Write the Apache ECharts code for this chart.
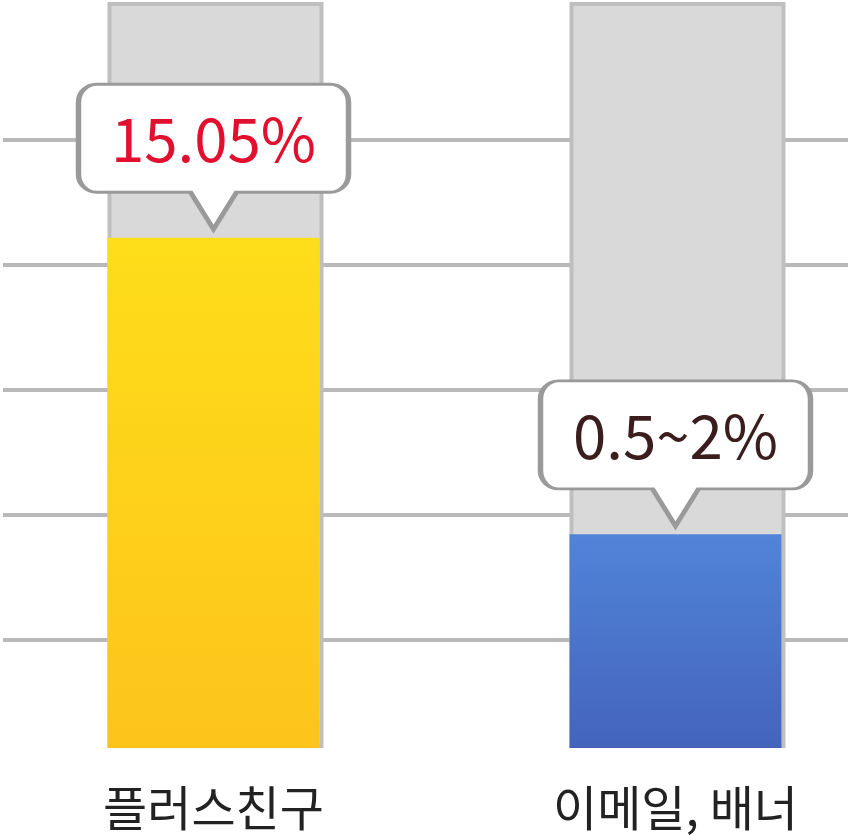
<!DOCTYPE html>
<html><head><meta charset="utf-8">
<script src="https://cdn.jsdelivr.net/npm/echarts@6/dist/echarts.min.js"></script>
<style>html,body{margin:0;padding:0;background:#fff}#c{width:854px;height:836px}</style>
</head><body><div id="c"></div>
<script>
const categories = ['플러스친구', '이메일, 배너'];
const values = [15.05, 6.3];
const labels = ['15.05%', '0.5~2%'];
const labelColors = ['#e1102f', '#3b1d1d'];
const axisMax = 22;
const gridTicks = [0, 1, 2, 3, 4];

const topColors = ['#fedd1a', '#5084d8'];
const bottomColors = ['#fdc41b', '#4464bb'];

const calloutPath = 'path://M18,0 H252 A18,18 0 0 1 270,18 V90 A18,18 0 0 1 252,108 H158 L135,145 L112,108 H18 A18,18 0 0 1 0,90 V18 A18,18 0 0 1 18,0 Z';

const chart = echarts.init(document.getElementById('c'), null, {renderer: 'canvas'});
chart.setOption({
  animation: false,
  backgroundColor: '#fff',
  grid: [
    {left: -17.5, right: -52.5, top: 2, bottom: 88, outerBoundsMode: 'none', containLabel: false},
    {left: 3, right: 6, top: 140, bottom: 196, outerBoundsMode: 'none'}
  ],
  xAxis: [
    {type: 'category', gridIndex: 0, data: categories,
     axisLine: {show: false}, axisTick: {show: false}, splitLine: {show: false},
     axisLabel: {fontSize: 48, color: '#222', margin: 36, fontFamily: 'Noto Sans CJK KR'}},
    {type: 'value', gridIndex: 1, min: 0, max: 1, show: false}
  ],
  yAxis: [
    {type: 'value', gridIndex: 0, min: 0, max: axisMax, show: false},
    {type: 'value', gridIndex: 1, min: gridTicks[0], max: gridTicks[gridTicks.length - 1], interval: 1,
     axisLine: {show: false}, axisTick: {show: false}, axisLabel: {show: false},
     splitLine: {show: true, lineStyle: {color: '#b9b9b9', width: 4}}}
  ],
  series: [
    {type: 'bar', xAxisIndex: 0, yAxisIndex: 0, barWidth: 216, z: 2,
     data: categories.map(() => axisMax), silent: true,
     itemStyle: {color: '#d9d9d9', borderColor: '#bfbfbf', borderWidth: 4}},
    {type: 'bar', xAxisIndex: 0, yAxisIndex: 0, barWidth: 212, barGap: '-100%', z: 3,
     data: values.map((v, i) => ({value: v, itemStyle: {color: new echarts.graphic.LinearGradient(0, 0, 0, 1, [
       {offset: 0, color: topColors[i]}, {offset: 1, color: bottomColors[i]}])}}))},
    {type: 'scatter', xAxisIndex: 0, yAxisIndex: 0, z: 5, clip: false,
     symbol: calloutPath, symbolSize: [270, 145], symbolOffset: [0, -81],
     itemStyle: {color: '#fff', borderColor: '#9a9a9a', borderWidth: 4, opacity: 1},
     label: {show: true, position: 'inside', offset: [0, -17], fontSize: 60,
       fontFamily: 'Noto Sans CJK KR', formatter: p => labels[p.dataIndex]},
     data: values.map((v, i) => ({value: v, label: {color: labelColors[i]}}))}
  ]
});
</script></body></html>
